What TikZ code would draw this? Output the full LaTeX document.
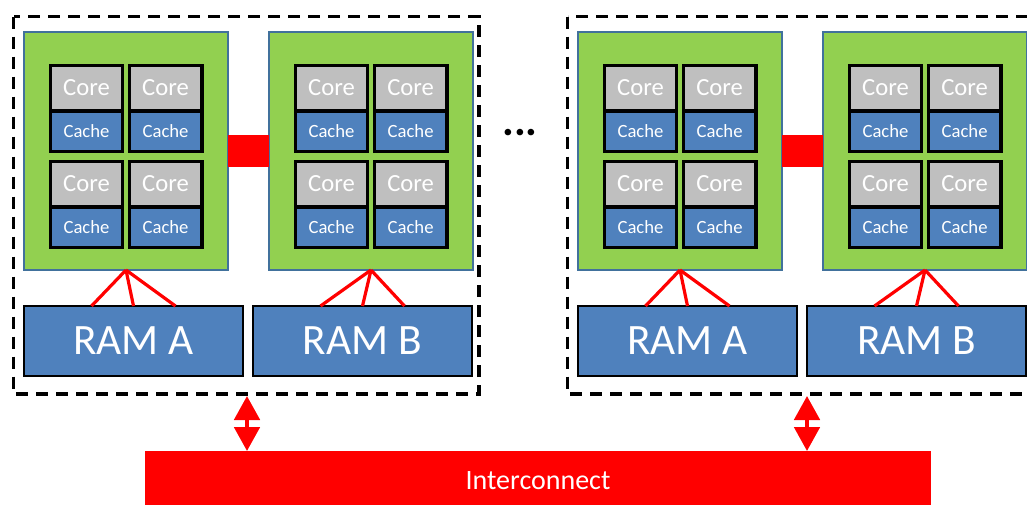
\documentclass[tikz,border=0pt]{standalone}
\usepackage{fontspec}
\setmainfont{Carlito}
\usetikzlibrary{arrows.meta,positioning}
\definecolor{socketgreen}{HTML}{92D050}
\definecolor{cacheblue}{HTML}{4F81BD}
\definecolor{coregray}{HTML}{BFBFBF}
\definecolor{socketedge}{HTML}{41719C}

\begin{document}
\begin{tikzpicture}[
    x=0.75pt, y=-0.75pt,
    node distance=7.1pt and 4.9pt,
    every node/.style={text=white, inner sep=0pt, outer sep=0pt},
    socket/.style={draw=socketedge, line width=1.7pt, fill=socketgreen, minimum width=153pt, minimum height=178.5pt},
    core/.style={draw=black, line width=2.5pt, fill=coregray, minimum width=54.4pt, minimum height=34.3pt, font=\fontsize{18.5}{18.5}\selectfont},
    cache/.style={draw=black, line width=2.5pt, fill=cacheblue, minimum width=54.4pt, minimum height=30.6pt, font=\fontsize{14}{14}\selectfont},
    ram/.style={draw=black, line width=2pt, fill=cacheblue, minimum width=164.2pt, minimum height=52.5pt, font=\fontsize{32.5}{32.5}\selectfont},
    bus/.style={fill=red, minimum width=589.5pt, minimum height=45pt, font=\fontsize{21}{21}\selectfont},
    grp/.style={draw=black, line width=2.6pt, dash pattern=on 9pt off 6pt},
    fan/.style={draw=red, line width=2.4pt},
    link/.style={draw=red, line width=24pt},
    dbl/.style={draw=red, line width=3pt, {Triangle[length=18pt,width=19pt]}-{Triangle[length=18pt,width=19pt]}}
]
\useasboundingbox (0,0) rectangle (1027,504);
\clip (0,0) rectangle (1027,504);

% node groups
\draw[grp] (13.5,16.5) rectangle (479,394);
\draw[grp] (567.5,16.5) rectangle (1040,394);

% sockets with their cores and RAM
\foreach \i/\sx/\rx/\lbl in {1/126/133.5/A, 2/371/362.5/B, 3/680/687.5/A, 4/925/916.5/B} {
  \node[socket] (s\i) at (\sx,151) {};
  \node[core] (co\i-1) at ([xshift=-29.6pt, yshift=47.2pt]s\i.center) {Core};
  \node[cache, below=0pt of co\i-1] (ca\i-1) {Cache};
  \node[core, right=of co\i-1] (co\i-2) {Core};
  \node[cache, below=0pt of co\i-2] (ca\i-2) {Cache};
  \node[core, below=of ca\i-1] (co\i-3) {Core};
  \node[cache, below=0pt of co\i-3] (ca\i-3) {Cache};
  \node[core, right=of co\i-3] (co\i-4) {Core};
  \node[cache, below=0pt of co\i-4] (ca\i-4) {Cache};
  \node[ram] (r\i) at (\rx,341) {RAM \lbl};
  \draw[fan] (s\i.south) -- ([xshift=-31.5pt]r\i.north);
  \draw[fan] (s\i.south) -- (r\i.north);
  \draw[fan] (s\i.south) -- ([xshift=31.5pt]r\i.north);
}

% links between sockets
\draw[link] (s1.east) -- (s2.west);
\draw[link] (s3.east) -- (s4.west);

\node[text=black, font=\fontsize{33}{33}\bfseries, anchor=base] (etc) at (520,135) {...};

\node[bus] (ic) at (538,481) {Interconnect};
\coordinate (g1) at (247,396);
\coordinate (g2) at (807,396);
\draw[dbl] (g1) -- (g1 |- ic.north);
\draw[dbl] (g2) -- (g2 |- ic.north);
\end{tikzpicture}
\end{document}
